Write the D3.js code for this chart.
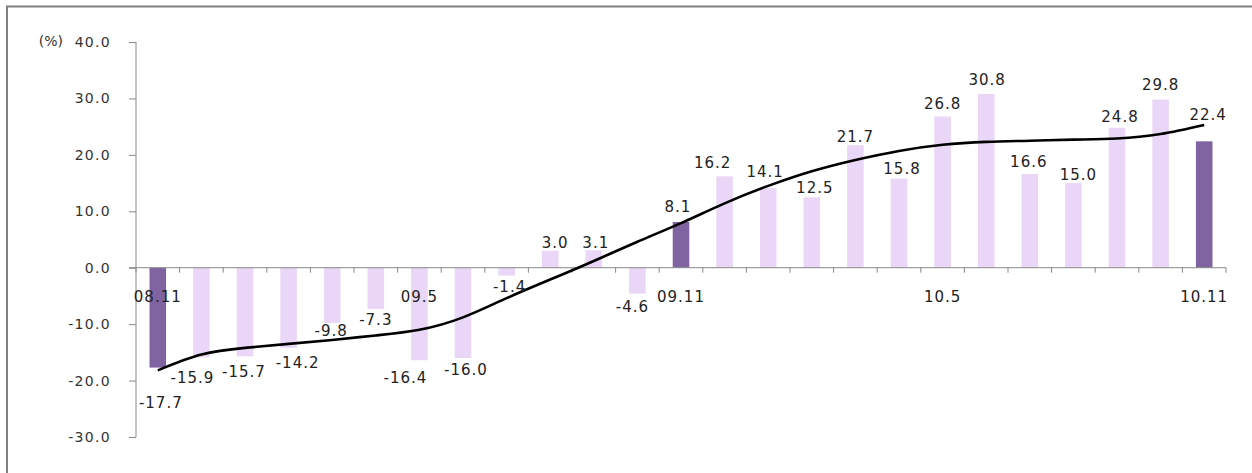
<!DOCTYPE html>
<html>
<head>
<meta charset="utf-8">
<script src="https://cdn.jsdelivr.net/npm/d3@7"></script>
<style>
  body { margin: 0; background: #fff; }
  svg text { font-family: "DejaVu Sans", Verdana, sans-serif; fill: #222; }
</style>
</head>
<body>
<svg id="chart" width="1252" height="473"></svg>
<script>
// monthly growth rate, 08.11 ~ 10.11
const months = ["08.11","08.12","09.1","09.2","09.3","09.4","09.5","09.6","09.7","09.8","09.9","09.10",
  "09.11","09.12","10.1","10.2","10.3","10.4","10.5","10.6","10.7","10.8","10.9","10.10","10.11"];
const values = [-17.7,-15.9,-15.7,-14.2,-9.8,-7.3,-16.4,-16.0,-1.4,3.0,3.1,-4.6,
  8.1,16.2,14.1,12.5,21.7,15.8,26.8,30.8,16.6,15.0,24.8,29.8,22.4];
// smoothed trend
const trend = [-18.2,-15.4,-14.2,-13.5,-12.8,-12.0,-11.0,-8.8,-5.4,-2.1,1.2,4.6,
  7.9,11.4,14.5,17.1,19.1,20.7,21.8,22.3,22.5,22.7,22.9,23.7,25.3];
const shownMonths = ["08.11","09.5","09.11","10.5","10.11"];
const highlight = ["08.11","09.11","10.11"];
const yTicks = [40,30,20,10,0,-10,-20,-30];

// label nudges [dx, dy] from the bar end, like the hand-placed excel labels
const labelNudge = [[3,35],[-9,20],[-1,15],[9,15],[-1,8],[0,11],[-14,17],[3,12],[3,11],[5,-8],[2,-7],[-5,13],
  [-3,-15],[-12,-14],[-3,-16],[3,-9],[0,-9],[3,-10],[0,-13],[1,-14],[-1,-12],[5,-8],[3,-11],[0,-15],[4,-27]];

const svg = d3.select("#chart");

// frame (only top and left edges are inside the picture)
svg.append("path")
  .attr("d", "M7,473V6.5H1252")
  .attr("fill", "none").attr("stroke", "#7f7f7f").attr("stroke-width", 2);

const x = d3.scaleBand().domain(months).range([136, 1226]).paddingInner(0).paddingOuter(0);
const y = d3.scaleLinear().domain([-30, 40]).range([437, 42]);
const barW = x.bandwidth() * 0.38;

// bars
svg.append("g").selectAll("rect")
  .data(values)
  .join("rect")
  .attr("x", (d, i) => x(months[i]) + x.bandwidth() / 2 - barW / 2)
  .attr("y", d => y(Math.max(0, d)))
  .attr("width", barW)
  .attr("height", d => Math.abs(y(d) - y(0)))
  .attr("fill", (d, i) => highlight.includes(months[i]) ? "#8064a2" : "#ead6f6");

// y axis
const yAxis = svg.append("g")
  .attr("transform", "translate(136,0)")
  .call(d3.axisLeft(y).tickValues(yTicks).tickSize(7).tickPadding(18).tickFormat(d3.format(".1f")));
yAxis.attr("font-size", null).attr("font-family", null);
yAxis.select(".domain").attr("stroke", "#898989").attr("d", "M0," + y(40) + "V" + y(-30));
yAxis.selectAll(".tick line").attr("stroke", "#898989");
yAxis.selectAll(".tick text")
  .style("font-size", "14px").attr("letter-spacing", 1.3).style("fill", "#333")
  .text(d => d3.format(".1f")(d).replace("−", "-"));

svg.append("text")
  .attr("x", 63).attr("y", y(40)).attr("dy", "0.32em")
  .attr("text-anchor", "end").style("font-size", "14px").style("fill", "#333")
  .text("(%)");

// x axis at zero, ticks on band edges
const xg = svg.append("g").attr("transform", "translate(0," + y(0) + ")");
xg.append("line")
  .attr("x1", 129).attr("x2", 1226)
  .attr("stroke", "#898989");
xg.selectAll("line.tk")
  .data(months.map(m => x(m)).concat([x(months[months.length - 1]) + x.bandwidth()]))
  .join("line")
  .attr("class", "tk")
  .attr("x1", d => d).attr("x2", d => d)
  .attr("y1", 0).attr("y2", 5)
  .attr("stroke", "#898989");
xg.selectAll("text")
  .data(shownMonths)
  .join("text")
  .attr("x", d => x(d) + x.bandwidth() / 2)
  .attr("y", 29)
  .attr("dy", "0.35em")
  .attr("text-anchor", "middle")
  .style("font-size", "15px").attr("letter-spacing", 1)
  .text(d => d);

// trend line
const line = d3.line()
  .x((d, i) => x(months[i]) + x.bandwidth() / 2)
  .y(d => y(d))
  .curve(d3.curveNatural);
svg.append("path")
  .datum(trend)
  .attr("d", line)
  .attr("fill", "none")
  .attr("stroke", "#000")
  .attr("stroke-width", 2.6);

// value labels
svg.append("g").selectAll("text")
  .data(values)
  .join("text")
  .attr("x", (d, i) => x(months[i]) + x.bandwidth() / 2 + labelNudge[i][0])
  .attr("y", (d, i) => y(d) + labelNudge[i][1])
  .attr("dy", "0.35em")
  .attr("text-anchor", "middle")
  .style("font-size", "15px").attr("letter-spacing", 1)
  .text(d => d.toFixed(1));
</script>
</body>
</html>
